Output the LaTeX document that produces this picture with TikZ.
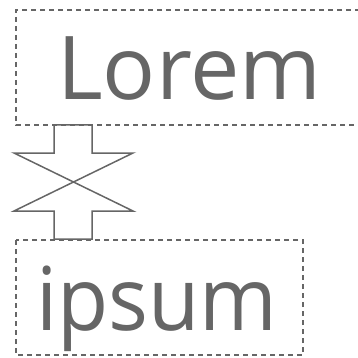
\documentclass[tikz,border=0pt]{standalone}
\usepackage{fontspec}
\setmainfont{Open Sans}
\definecolor{ink}{HTML}{666666}
\begin{document}
\begin{tikzpicture}[x=1pt,y=-1pt,
  frame/.style={draw=ink,dash pattern=on 5pt off 4pt,line width=1.3pt},
  word/.style={text=ink,font=\fontsize{88}{88}\selectfont,inner sep=0pt,anchor=base west},
  bowtie/.style={draw=ink,line width=1.5pt,line join=miter}]
\useasboundingbox (0,0) rectangle (357,358);
\draw[frame] (360,10) -- (16,10) -- (16,125) -- (360,125);
\draw[frame] (16,240) rectangle (303,355);
\node[word] (lorem) at (57,100) {Lorem};
\node[word,xscale=0.95] (ipsum) at (36,330) {ipsum};
\draw[bowtie] (54,125) -- (92,125) -- (92,153) -- (133,153) -- (14,211) -- (54,211)
  -- (54,239) -- (92,239) -- (92,211) -- (133,211) -- (14,153) -- (54,153) -- cycle;
\end{tikzpicture}
\end{document}
